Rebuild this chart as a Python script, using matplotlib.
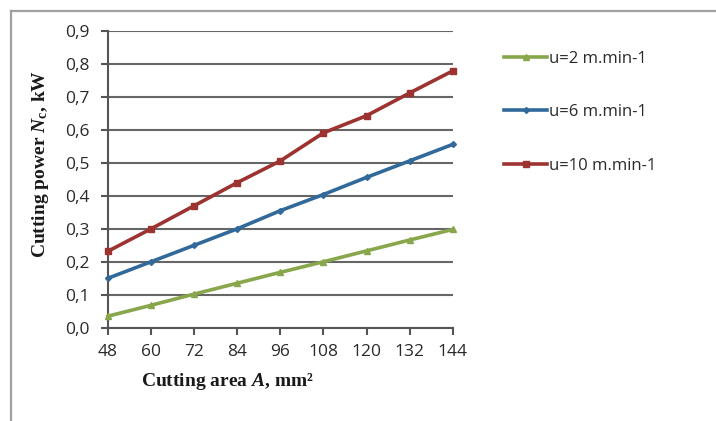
import matplotlib.pyplot as plt
from matplotlib.lines import Line2D
from matplotlib.ticker import FuncFormatter


AREA = [48, 60, 72, 84, 96, 108, 120, 132, 144]
POWER_U2 = [0.035, 0.068, 0.102, 0.135, 0.168, 0.200, 0.233, 0.266, 0.298]
POWER_U6 = [0.150, 0.200, 0.250, 0.300, 0.355, 0.404, 0.456, 0.506, 0.556]
POWER_U10 = [0.232, 0.300, 0.370, 0.440, 0.506, 0.591, 0.643, 0.712, 0.779]
SERIES_LABELS = ["u=2 m.min-1", "u=6 m.min-1", "u=10 m.min-1"]
Y_TICKS = [0.0, 0.1, 0.2, 0.3, 0.4, 0.5, 0.6, 0.7, 0.8, 0.9]

TICK_FONT = "Open Sans"
LABEL_FONT = "Liberation Serif"

plt.rcParams["mathtext.fontset"] = "custom"
plt.rcParams["mathtext.rm"] = "Liberation Serif:bold"
plt.rcParams["mathtext.it"] = "Liberation Serif:bold:italic"
plt.rcParams["mathtext.bf"] = "Liberation Serif:bold"


def main() -> None:
    fig = plt.figure(figsize=(7.16, 4.21), dpi=100)
    ax = fig.add_axes([0.1508, 0.2216, 0.4815, 0.7048])

    # outer frame (only top and left edges are visible in the reference)
    fig.add_artist(Line2D([0.015, 1.0], [0.974, 0.974], transform=fig.transFigure,
                          color="#a0a0a0", linewidth=1.6))
    fig.add_artist(Line2D([0.015, 0.015], [0.0, 0.974], transform=fig.transFigure,
                          color="#a0a0a0", linewidth=1.6))

    styles = [
        (POWER_U2, "#88a64b", "^"),
        (POWER_U6, "#31699a", "D"),
        (POWER_U10, "#9c3330", "s"),
    ]
    for (values, color, marker), label in zip(styles, SERIES_LABELS):
        ax.plot(AREA, values, color=color, linewidth=2.6, marker=marker,
                markersize=4 if marker != "D" else 3, markerfacecolor=color,
                markeredgecolor=color, label=label, clip_on=False, zorder=3)

    ax.set_xlim(48, 144)
    ax.set_ylim(0, 0.9)
    ax.set_xticks(AREA)
    ax.set_yticks(Y_TICKS)
    ax.yaxis.set_major_formatter(FuncFormatter(lambda v, _: f"{v:.1f}".replace(".", ",")))
    ax.grid(axis="y", color="#666666", linewidth=1.5)
    ax.set_axisbelow(True)

    for side in ("top", "right"):
        ax.spines[side].set_visible(False)
    for side in ("left", "bottom"):
        ax.spines[side].set_color("#555555")
        ax.spines[side].set_linewidth(1.5)

    ax.tick_params(direction="out", length=5, width=1.5, color="#555555",
                   labelsize=12.5, labelcolor="#2a2a2a", pad=8)
    ax.tick_params(axis="x", pad=7)
    for label in ax.get_xticklabels() + ax.get_yticklabels():
        label.set_fontfamily(TICK_FONT)

    ax.set_xlabel(r"Cutting area $A$, mm²", fontfamily=LABEL_FONT,
                  fontsize=14, fontweight="bold", color="#1a1a1a")
    ax.xaxis.set_label_coords(0.348, -0.145)
    ax.set_ylabel(r"Cutting power $N_{\mathrm{c}}$, kW", fontfamily=LABEL_FONT,
                  fontsize=14, fontweight="bold", color="#1a1a1a")
    ax.yaxis.set_label_coords(-0.165, 0.552)

    legend = ax.legend(loc="upper left", bbox_to_anchor=(0.683, 0.915),
                       bbox_transform=fig.transFigure, frameon=False,
                       handlelength=2.6, handletextpad=0.1, labelspacing=2.25,
                       prop={"family": TICK_FONT, "size": 12})
    for text in legend.get_texts():
        text.set_color("#2a2a2a")

    fig.savefig("out.png", dpi=100)
    plt.close(fig)


if __name__ == "__main__":
    main()
